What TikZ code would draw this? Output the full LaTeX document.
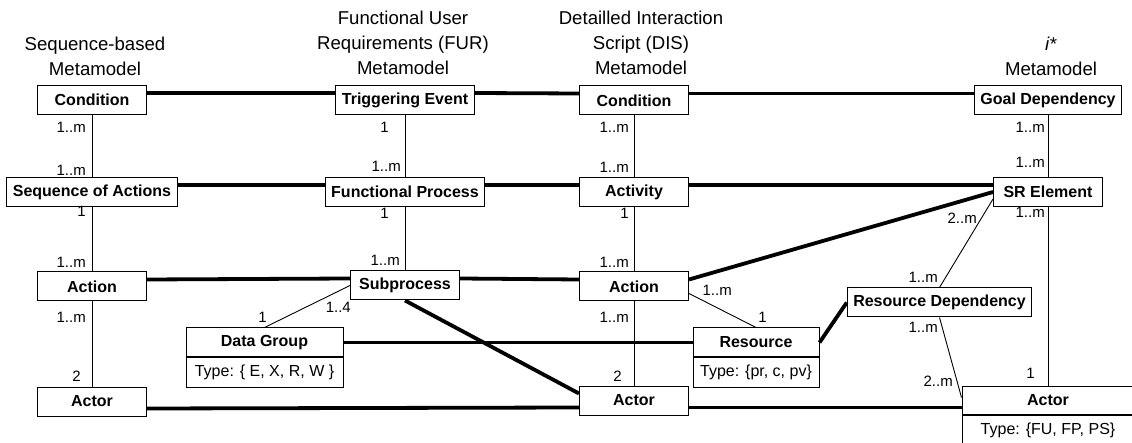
\documentclass[tikz,border=0pt]{standalone}
\usepackage{fontspec}
\setmainfont{Liberation Sans}
\usetikzlibrary{positioning}

\begin{document}
\begin{tikzpicture}[x=1pt,y=-1pt,
  box/.style={draw,line width=1pt,fill=white,minimum width=109pt,minimum height=29pt,inner xsep=6pt,inner ysep=2pt,
              font=\fontsize{16}{19}\selectfont\bfseries},
  typ/.style={draw,line width=1pt,fill=white,minimum height=29pt,inner xsep=2pt,inner ysep=2pt,
              font=\fontsize{16}{19}\selectfont},
  mult/.style={inner sep=0pt,font=\fontsize{15}{18}\selectfont},
  ttl/.style={align=center,font=\fontsize{18.6}{25}\selectfont},
  assoc/.style={line width=0.9pt},
  mapl/.style={line width=3.8pt}]

\useasboundingbox (0,0) rectangle (1132,443);

%============================== titles ==============================
\node[ttl] (tseq) at (95,56) {Sequence-based\\Metamodel};
\node[ttl] (tfur) at (403,43) {Functional User\\Requirements (FUR)\\Metamodel};
\node[ttl] (tdis) at (641,43) {Detailled Interaction\\Script (DIS)\\Metamodel};
\node[ttl] (tist) at (1051,56) {\textit{i*}\\Metamodel};

%============================== sequence-based ==============================
\node[box] (cond1) at (92,100) {Condition};
\node[box] (seq) at (92,192) {Sequence of Actions};
\node[box] (act1) at (92,286.5) {Action};
\node[box] (actor1) at (92,401.5) {Actor};
\draw[assoc] (cond1) -- (seq); \draw[assoc] (seq) -- (act1); \draw[assoc] (act1) -- (actor1);

%============================== FUR ==============================
\node[box] (trig) at (405,100) {Triggering Event};
\node[box] (fp) at (405,192) {Functional Process};
\node[box] (sub) at (405,285.5) {Subprocess};
\node[box,minimum width=157pt] (dg) at (264.5,342.5) {Data Group};
\node[typ,minimum width=157pt,below=0pt of dg] (dgt) {Type: \{ E, X, R, W \}};
\draw[assoc] (trig) -- (fp); \draw[assoc] (fp) -- (sub);
\draw[assoc] (sub.west) -- (dg.north);

%============================== DIS ==============================
\node[box] (cond3) at (634,100.5) {Condition};
\node[box] (actv) at (634,192) {Activity};
\node[box] (act3) at (634,286.5) {Action};
\node[box] (actor3) at (634,400.5) {Actor};
\node[box,minimum width=126pt] (res) at (756,342.5) {Resource};
\node[typ,minimum width=126pt,below=0pt of res] (rest) {Type: \{pr, c, pv\}};
\draw[assoc] (cond3) -- (actv); \draw[assoc] (actv) -- (act3); \draw[assoc] (act3) -- (actor3);
\draw[assoc] ([yshift=-7pt]act3.east) -- (res.north);

%============================== i* ==============================
\node[box] (goal) at (1048,100.5) {Goal Dependency};
\node[box] (sr) at (1048,192) {SR Element};
\node[box] (rdep) at (939.5,302.5) {Resource Dependency};
\node[box,minimum width=172pt,minimum height=28pt] (actor4) at (1048,400.5) {Actor};
\node[typ,minimum width=172pt,below=0pt of actor4] (actor4t) {Type: \{FU, FP, PS\}};
\draw[assoc] (goal) -- (sr); \draw[assoc] (sr) -- (actor4);
\draw[assoc] ([yshift=-7pt]sr.west) -- (rdep.north);
\draw[assoc] (rdep.south) -- ([yshift=3pt]actor4.west);

%============================== mappings ==============================
\draw[mapl] ([yshift=7pt]cond1.east) -- ([yshift=7pt]trig.west);
\draw[mapl] ([yshift=7pt]trig.east) -- ([yshift=7pt]cond3.west);
\draw[mapl] ([yshift=7pt]cond3.east) -- ([yshift=7pt]goal.west);
\draw[mapl] ([yshift=7pt]seq.east) -- ([yshift=7pt]fp.west);
\draw[mapl] ([yshift=7pt]fp.east) -- ([yshift=7pt]actv.west);
\draw[mapl] ([yshift=7pt]actv.east) -- ([yshift=7pt]sr.west);
\draw[mapl] ([yshift=7pt]act1.east) -- ([yshift=7pt]sub.west);
\draw[mapl] ([yshift=7pt]sub.east) -- ([yshift=7pt]act3.west);
\draw[mapl] ([yshift=7pt]act3.east) -- (sr.west);
\draw[mapl] (dg.east) -- (res.west);
\draw[mapl] (res.east) -- (rdep.west);
\draw[mapl] (sub.south) -- ([yshift=7pt]actor3.west);
\draw[mapl] ([yshift=-7pt]actor1.east) -- ([yshift=-7pt]actor3.west);
\draw[mapl] ([yshift=-7pt]actor3.east) -- ([yshift=-7pt]actor4.west);

%============================== multiplicities ==============================
\foreach \x/\y/\t [count=\i] in {86/127/1..m, 86/170/1..m, 86/211/1, 86/262/1..m, 86/317/1..m, 81/376/2,
    389/127/1, 401/166/1..m, 389/213/1, 400/260/1..m, 267/317/1, 351/307/1..4,
    629/127/1..m, 629/167/1..m, 629/213/1, 629/262/1..m, 629/317/1..m, 622/376/2,
    732/290/1..m, 767/317/1,
    1045/127/1..m, 1045/162/1..m, 1045/212/1..m, 1035/373/1,
    977/218/2..m, 938/277/1..m, 938/327/1..m, 953/381/2..m}
  {\node[mult,anchor=east] (m\i) at (\x,\y) {\t};}
\end{tikzpicture}
\end{document}
